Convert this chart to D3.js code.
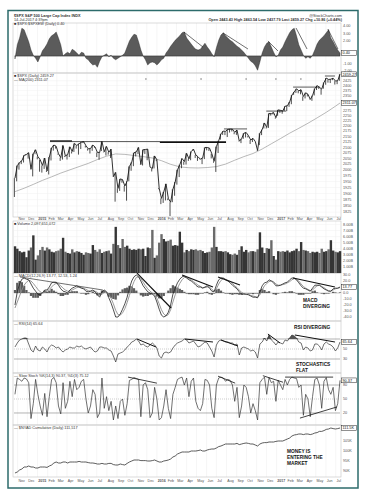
<!DOCTYPE html>
<html>
<head>
<meta charset="utf-8">
<script src="https://cdn.jsdelivr.net/npm/d3@7"></script>
<style>
  html, body { margin: 0; padding: 0; background: #fff; }
  svg { display: block; font-family: "Liberation Sans", Arial, sans-serif; }
</style>
</head>
<body>
<div id="chart"></div>
<script>
'use strict';

// weekly values, week 0 = Fri 24-Oct-2014, week 142 = Fri 14-Jul-2017
var priceClose = [1964.6,2018.1,2031.9,2039.8,2063.5,2067.6,2075.4,2002.3,2070.7,2088.8,
  2058.2,2044.8,2019.4,2051.8,1995.0,2055.5,2097.0,2110.3,2104.5,2071.3,
  2053.4,2108.1,2061.0,2067.0,2102.1,2081.2,2117.7,2108.3,2116.1,2122.7,
  2126.1,2107.4,2092.8,2094.1,2110.0,2101.5,2076.8,2076.6,2126.6,2079.7,
  2103.8,2077.6,2091.5,1970.9,1988.9,1921.2,1961.1,1958.1,1931.3,1951.4,
  2014.9,2033.1,2075.2,2079.4,2099.2,2023.0,2089.2,2090.1,2091.7,2012.4,
  2005.6,2061.0,2043.9,1922.0,1880.3,1906.9,1940.2,1880.1,1864.8,1917.8,
  1948.1,2000.0,2022.2,2049.6,2035.9,2072.8,2047.6,2080.7,2091.6,2065.3,
  2057.1,2046.6,2052.3,2099.1,2099.1,2096.1,2071.2,2037.4,2103.0,2129.9,
  2161.7,2175.0,2173.6,2182.9,2184.1,2183.9,2169.0,2180.0,2127.8,2139.2,
  2164.7,2168.3,2153.7,2133.0,2141.2,2126.4,2085.2,2164.5,2181.9,2213.4,
  2192.0,2259.5,2258.1,2263.8,2238.8,2277.0,2274.6,2271.3,2294.7,2297.4,
  2316.1,2351.2,2367.3,2383.1,2372.6,2378.3,2344.0,2362.7,2355.5,2329.0,
  2348.7,2384.2,2399.3,2390.9,2381.7,2415.8,2439.1,2431.8,2433.2,2438.3,
  2423.4,2425.2,2459.3];

var priceLow = [1886,1951,2001,2025,2032,2064,2049,2002,1972,2069,
  2046,1992,1988,2004,1991,1980,2041,2085,2094,2067,
  2039,2045,2056,2045,2056,2072,2079,2094,2067,2092,
  2119,2099,2085,2072,2084,2098,2056,2044,2083,2077,
  2063,2067,2052,1970,1867,1903,1911,1945,1908,1871,
  1951,1996,2016,2059,2069,2022,2019,2070,2042,2012,
  1993,2006,2038,1918,1857,1862,1872,1873,1810,1865,
  1891,1937,1969,2007,2022,2023,2039,2042,2084,2052,
  2039,2045,2025,2047,2086,2083,2050,2031,1991,2074,
  2135,2157,2156,2147,2168,2173,2160,2157,2127,2119,
  2139,2145,2145,2115,2124,2126,2084,2110,2156,2187,
  2187,2190,2249,2254,2234,2248,2262,2258,2273,2271,
  2292,2305,2352,2362,2360,2355,2322,2334,2344,2328,
  2322,2349,2377,2382,2353,2384,2404,2415,2413,2428,
  2405,2407,2425];

var maWeeks = [0,4,8,12,16,20,24,28,32,36,40,44,48,52,56,60,64,68,72,76,80,84,88,92,96,100,104,108,112,116,120,124,128,132,136,140,142];
var ma200 = [1908,1922,1938,1955,1970,1986,2000,2014,2028,2045,2060,2070,2068,2063,2058,2052,2040,2024,2013,2009,2008,2010,2014,2025,2042,2058,2072,2092,2116,2140,2165,2188,2212,2238,2265,2295,2311];

var oscTop = [-0.4,1.5,2.4,3.7,3.5,2.7,1.9,0.8,0.1,-0.3,
  -0.8,-0.1,0.7,1.1,1.6,2.3,2.7,2.9,3.2,2.4,
  1.5,0,0.3,0.5,0.3,0.9,0.7,0.4,0.1,0.5,
  0.4,-0.3,-0.5,-0.9,-1.2,-1.1,-1.5,-0.7,-0.1,0.1,
  0.3,-0.1,0.1,-0.3,-0.5,-0.3,-0.1,0.1,0.4,1.2,
  2.0,2.5,2.9,2.8,1.9,0.8,0,-0.5,-1.2,-0.9,
  -0.8,-0.9,-1.2,-0.9,-0.5,-0.3,0.4,0.8,1.3,1.7,
  2.1,2.4,2.7,3.1,3.2,2.4,2.0,1.6,1.2,0.9,
  0.8,0.9,1.3,1.7,1.2,0.8,0.3,-0.1,1.1,2.1,
  2.8,3.1,2.7,2.4,2.1,1.9,1.6,1.3,1.1,0.8,
  0.5,0.1,-0.3,-0.7,-0.9,-1.3,-1.9,-0.8,0.4,1.2,
  1.7,1.9,1.2,0.5,-0.1,0.1,0.8,1.2,1.9,2.5,
  3.1,3.5,3.7,2.7,1.5,0.8,0.1,-0.3,-0.1,-0.3,
  0.1,0.8,1.6,2.1,2.4,2.7,3.1,3.5,2.4,1.9,
  1.3,0.8,0.4];

var volume = [4.4,4.0,3.6,3.4,3.5,2.6,3.7,4.2,6.2,2.2,
  2.9,3.8,4.3,3.7,4.2,3.9,3.5,3.4,3.6,3.7,
  4.0,5.8,3.5,3.3,3.2,3.9,3.4,3.6,3.5,3.3,
  3.0,3.4,3.3,3.2,4.6,3.8,3.5,3.9,3.3,3.5,
  3.6,3.7,3.2,4.8,7.6,4.6,4.1,5.6,4.3,4.5,
  4.0,3.8,3.9,3.8,4.0,3.9,4.0,2.8,4.2,4.1,
  7.1,2.5,2.9,5.0,6.4,5.6,5.2,5.3,5.5,4.5,
  4.6,4.5,6.8,5.0,3.4,3.8,3.6,3.9,3.8,3.9,
  3.7,3.8,3.6,3.3,3.4,3.5,4.2,7.6,4.3,3.6,
  3.6,3.5,3.6,3.4,3.1,3.0,3.2,3.0,3.8,4.4,
  3.5,3.8,3.4,3.6,3.6,3.5,3.9,6.7,4.2,3.3,
  4.1,4.0,5.4,2.8,2.2,3.6,3.5,3.6,3.5,3.7,
  3.4,3.6,3.7,4.0,3.6,5.1,3.8,3.7,3.6,3.3,
  3.5,3.4,3.5,3.3,4.0,3.5,3.6,3.9,5.4,3.7,
  3.5,3.4,3.6];

var macd = [-20,2,15,23,25,23,22,15,8,3,
  -2,-3,0,5,5,10,17,18,18,13,
  7,3,2,0,5,8,10,12,10,8,
  7,3,2,3,5,2,-3,-7,2,5,
  2,-8,-17,-28,-40,-40,-35,-27,-18,-7,
  8,20,27,30,27,20,12,7,2,0,
  -2,-5,-15,-27,-37,-40,-38,-32,-20,-2,
  8,17,23,27,28,25,22,20,17,13,
  10,10,8,10,12,8,3,2,13,22,
  25,25,22,20,17,13,10,7,2,-2,
  -2,-2,-3,-5,-7,-7,-8,2,12,17,
  18,22,20,17,12,12,13,15,17,18,
  22,25,25,22,17,12,8,7,5,3,
  8,13,13,13,10,7,5,3,3,7,
  8,8,10];

var macdSignal = [-25,-15,-5,5,13,18,21,20,16,11,
  6,2,0,1,3,6,10,14,16,15,
  12,8,5,3,3,5,7,9,10,9,
  8,6,4,3,3,3,1,-3,-2,1,
  2,-2,-9,-18,-29,-36,-37,-33,-26,-16,
  -4,9,19,26,27,24,18,12,7,3,
  0,-3,-9,-18,-28,-35,-38,-36,-28,-15,
  -3,8,16,22,26,26,24,22,19,16,
  13,11,9,9,10,10,6,3,7,15,
  21,24,23,21,19,16,12,9,5,1,
  -1,-2,-2,-4,-5,-6,-7,-3,5,12,
  16,19,20,19,15,13,13,14,15,17,
  19,22,24,23,20,15,11,8,6,4,
  5,9,12,13,11,9,6,4,3,5,
  7,8,9];

var rsi = [54,62,68,70,72,72,60,48,44,56,
  48,46,54,50,44,54,58,56,52,54,
  48,44,48,50,54,52,52,56,54,56,
  52,50,52,54,48,44,46,54,54,52,
  52,48,46,36,24,40,42,44,48,54,
  58,64,66,70,66,58,60,56,54,58,
  62,58,52,36,32,42,44,42,44,52,
  58,62,64,66,70,68,62,64,66,60,
  54,56,60,64,62,54,46,34,58,66,
  68,66,64,64,62,62,58,60,38,52,
  54,52,50,46,48,44,32,60,64,72,
  66,78,68,64,58,64,62,60,68,66,
  72,78,76,72,64,62,48,54,52,46,
  48,60,60,56,48,60,64,60,58,54,
  46,52,64];

var stochK = [60,95,92,88,95,93,85,8,40,92,
  60,35,15,62,12,55,92,96,85,35,
  18,85,30,45,88,55,92,70,75,88,
  92,50,20,35,70,60,10,20,95,30,
  55,25,45,5,35,8,45,50,15,40,
  90,92,96,94,92,12,80,85,70,10,
  20,75,50,5,10,35,70,30,8,60,
  75,92,95,97,80,95,55,88,95,45,
  30,25,40,92,90,80,30,10,80,95,
  97,95,88,92,90,80,45,75,10,35,
  80,75,55,20,40,25,5,85,92,97,
  60,96,85,88,45,90,80,70,92,80,
  92,97,95,94,75,80,15,60,50,12,
  55,92,95,80,30,88,96,70,60,75,
  25,40,90];

var adLine = [89.0,89.5,90.5,91.0,92.0,92.0,92.5,92.0,92.0,91.5,
  91.5,92.0,92.0,92.0,91.8,92.5,93.0,94.0,94.5,94.0,
  94.0,94.5,94.5,94.0,94.5,94.5,94.5,94.5,94.8,94.5,
  94.5,94.5,94.2,94.0,94.0,93.8,93.5,93.5,93.8,93.5,
  93.5,93.8,93.8,93.2,93.0,93.0,93.5,93.2,93.0,93.8,
  94.5,95.0,95.5,95.5,95.5,95.2,95.2,95.2,95.0,95.0,
  95.2,95.5,95.0,94.5,94.5,95.0,95.2,95.5,96.0,97.0,
  97.5,98.5,99.0,99.5,99.5,99.5,99.5,100.0,100.0,100.0,
  100.2,100.5,100.0,100.0,100.5,100.8,101.0,101.0,101.5,102.2,
  102.5,103.0,103.5,103.5,103.5,103.5,103.5,103.8,103.2,103.5,
  103.8,104.0,103.8,103.5,103.5,103.0,102.5,103.5,104.0,104.2,
  104.2,104.5,104.5,104.5,104.8,105.0,105.0,105.0,105.5,106.0,
  106.5,107.5,108.0,108.2,108.5,108.5,108.2,108.5,108.5,108.2,
  108.5,109.0,109.2,109.8,109.8,110.2,110.8,111.0,111.5,111.2,
  111.0,111.2,111.5];

// annotation trend lines: [week, value] end points
var topTrends = [[[73.8,3.2],[82.1,1.2]], [[90.9,3.07],[101.8,0.93]], [[110.5,2.0],[114.9,0.67]], [[122.8,3.73],[127.6,0.93]], [[136.7,3.6],[141.1,0.93]]];
var priceTrendsThin = [[[15.3,2126],[92.2,2126]], [[91.3,2185],[101.4,2185]], [[109.8,2271],[118.5,2271]], [[121.5,2392],[133.2,2392]], [[135.4,2450],[139.8,2450]]];
var priceTrendsThick = [[[15.3,2129],[24.9,2129]], [[63.3,2122],[92.2,2122]]];
var macdTrendsThin = [[[2.2,26.7],[38.4,5]]];
var macdTrendsThick = [[[53.3,33],[68.2,-25]], [[73,30],[86.5,10]], [[88.7,26.7],[98.3,13.3]], [[121.5,25],[139.8,10]]];
var rsiTrends = [[[53.3,70],[61.6,54]], [[74.3,70],[86.5,64]], [[90,68],[97.4,56]], [[110.5,80],[115.8,62]], [[122.3,78],[139.8,64]]];
var stochTrends = [[[49.4,97],[62,84]], [[88.7,99],[96.2,84]], [[108.3,100],[117.1,86]], [[118,97],[139,97]], [[124.5,9],[140.7,33]]];
var markerWeeks = [57.2, 81.3, 101, 114, 124.9];

var priceTicks = [1825,1850,1875,1900,1925,1950,1975,2000,2025,2050,2075,2100,2125,2150,2175,2200,2225,2250,2275,2300,2325,2350,2375,2400,2425];
var topTicks = [-2,-1,0,1,2,3,4];
var volTicks = [1,2,3,4,5,6,7,8];
var macdTicks = [-40,-30,-20,-10,0,10,20,30];
var rsiTicks = [30,50,70];
var stochTicks = [20,50,80];
var adTicks = [90,95,100,105,110];

var W = 371, H = 496, L = 14, R = 340;
var start = new Date(2014, 9, 24);
var weekDate = function (i) { return new Date(start.getTime() + i * 7 * 864e5); };

var x = d3.scaleTime().domain([new Date(2014, 9, 21), new Date(2017, 6, 14)]).range([L, R]);
var yTop = d3.scaleLinear().domain([-2.2, 4.1]).range([72.5, 25.25]);
var yPrice = d3.scaleLog().domain([1810, 2450]).range([216, 76]);
var yVol = d3.scaleLinear().domain([0, 8.4]).range([273, 222]);
var yMacd = d3.scaleLinear().domain([-45, 32]).range([320, 273.8]);
var yRsi = d3.scaleLinear().domain([0, 100]).range([374, 324]);
var yStoch = d3.scaleLinear().domain([0, 100]).range([422.3, 375.7]);
var yAd = d3.scaleLinear().domain([88, 112]).range([475, 427]);

var svg = d3.select('#chart').append('svg').attr('width', W).attr('height', H);
svg.append('rect').attr('width', W).attr('height', H).attr('fill', '#fff');

var panels = [
  { y0: 23, y1: 73 }, { y0: 73, y1: 217 }, { y0: 221, y1: 273 }, { y0: 273, y1: 321 },
  { y0: 321, y1: 373 }, { y0: 373, y1: 425 }, { y0: 425, y1: 477 }
];
var months = d3.timeMonth.range(new Date(2014, 10, 1), new Date(2017, 7, 1));

// grid + frames
panels.forEach(function (p) {
  svg.append('g').selectAll('line').data(months).join('line')
    .attr('x1', function (d) { return x(d); }).attr('x2', function (d) { return x(d); })
    .attr('y1', p.y0).attr('y2', p.y1).attr('stroke', '#ececec').attr('stroke-width', 0.5);
  svg.append('rect').attr('x', L - 1).attr('y', p.y0).attr('width', R - L + 2).attr('height', p.y1 - p.y0)
    .attr('fill', 'none').attr('stroke', '#c4c4c4').attr('stroke-width', 0.6);
});

var hgrid = function (ticks, y) {
  svg.append('g').selectAll('line').data(ticks).join('line')
    .attr('x1', L).attr('x2', R).attr('y1', function (d) { return y(d); }).attr('y2', function (d) { return y(d); })
    .attr('stroke', '#f0f0f0').attr('stroke-width', 0.5);
};
hgrid(priceTicks, yPrice);
hgrid(volTicks, yVol);

// right axis labels, skipping the ones hidden under a value box
var rightAxis = function (ticks, y, fmt, boxes) {
  var shown = ticks.filter(function (t) {
    return (boxes || []).every(function (b) { return Math.abs(y(t) - y(b)) > 4.6; });
  });
  svg.append('g').selectAll('text').data(shown).join('text')
    .attr('x', R + 3).attr('y', function (d) { return y(d) + 1.3; })
    .style('font-size', '3.8px').style('fill', '#555')
    .text(fmt);
};
var valueBox = function (v, y, txt) {
  svg.append('rect').attr('x', R + 1.5).attr('y', y(v) - 2.4).attr('width', 15).attr('height', 4.8)
    .attr('fill', '#fff').attr('stroke', '#222').attr('stroke-width', 0.5);
  svg.append('text').attr('x', R + 2.5).attr('y', y(v) + 1.4).style('font-size', '3.8px').style('fill', '#111').text(txt);
};

var lastOf = function (a) { return a[a.length - 1]; };
rightAxis(topTicks, yTop, function (d) { return d.toFixed(2); }, [lastOf(oscTop)]);
rightAxis(priceTicks, yPrice, function (d) { return d; }, [lastOf(priceClose), lastOf(ma200)]);
rightAxis(volTicks, yVol, function (d) { return d.toFixed(2) + 'B'; });
rightAxis(macdTicks, yMacd, function (d) { return d.toFixed(1); }, [lastOf(macd)]);
rightAxis(rsiTicks, yRsi, function (d) { return d; }, [lastOf(rsi)]);
rightAxis(stochTicks, yStoch, function (d) { return d; }, [lastOf(stochK)]);
rightAxis(adTicks, yAd, function (d) { return d + 'K'; }, [lastOf(adLine)]);

// date axis labels
var dateAxis = function (yy) {
  svg.append('g').selectAll('text').data(months).join('text')
    .attr('x', function (d) { return x(d) + 0.8; }).attr('y', yy)
    .style('font-size', '3.6px').style('fill', '#555')
    .style('font-weight', function (d) { return d.getMonth() === 0 ? 'bold' : 'normal'; })
    .text(function (d) { return d.getMonth() === 0 ? d.getFullYear() : d3.timeFormat('%b')(d); });
};
dateAxis(220);
dateAxis(481.5);

var line = function (data, y, wk) {
  return d3.line()
    .x(function (d, i) { return x(weekDate(wk ? wk[i] : i)); })
    .y(function (d) { return y(d); })(data);
};
var trend = function (segs, y, width) {
  svg.append('g').selectAll('path').data(segs).join('path')
    .attr('d', d3.line().x(function (d) { return x(weekDate(d[0])); }).y(function (d) { return y(d[1]); }))
    .attr('fill', 'none').attr('stroke', '#111').attr('stroke-width', width);
};

// top panel: oscillator area
svg.append('line').attr('x1', L).attr('x2', R).attr('y1', yTop(0)).attr('y2', yTop(0)).attr('stroke', '#999').attr('stroke-width', 0.6);
svg.append('path').datum(oscTop)
  .attr('d', d3.area().x(function (d, i) { return x(weekDate(i)); }).y0(yTop(0)).y1(function (d) { return yTop(d); }))
  .attr('fill', '#5b5b5b').attr('stroke', '#222').attr('stroke-width', 0.4);
trend(topTrends, yTop, 0.6);
valueBox(lastOf(oscTop), yTop, '0.40');

// price panel
svg.append('path').attr('d', line(ma200, yPrice, maWeeks)).attr('fill', 'none').attr('stroke', '#8a8a8a').attr('stroke-width', 0.6);
svg.append('g').selectAll('line').data(priceLow).join('line')
  .attr('x1', function (d, i) { return x(weekDate(i)) - 0.6; }).attr('x2', function (d, i) { return x(weekDate(i)) - 0.6; })
  .attr('y1', function (d) { return yPrice(d); }).attr('y2', function (d, i) { return yPrice(priceClose[i]); })
  .attr('stroke', '#222').attr('stroke-width', 0.8);
svg.append('path').attr('d', line(priceClose, yPrice)).attr('fill', 'none').attr('stroke', '#1a1a1a').attr('stroke-width', 0.9);
trend(priceTrendsThin, yPrice, 0.7);
trend(priceTrendsThick, yPrice, 1.2);
svg.append('g').selectAll('circle').data(markerWeeks).join('circle')
  .attr('cx', function (d) { return x(weekDate(d)); }).attr('cy', 79).attr('r', 0.9).attr('fill', '#aaa');
valueBox(lastOf(priceClose), yPrice, '2459.27');
valueBox(lastOf(ma200), yPrice, '2311.07');

// volume bars
var bw = x(weekDate(1)) - x(weekDate(0));
svg.append('g').selectAll('rect').data(volume).join('rect')
  .attr('x', function (d, i) { return x(weekDate(i)) - bw / 2; }).attr('width', bw + 0.1)
  .attr('y', function (d) { return yVol(d); }).attr('height', function (d) { return yVol(0) - yVol(d); })
  .attr('fill', function (d, i) { return i > 0 && priceClose[i] < priceClose[i - 1] ? '#6a6a6a' : '#353535'; });

// MACD
svg.append('line').attr('x1', L).attr('x2', R).attr('y1', yMacd(0)).attr('y2', yMacd(0)).attr('stroke', '#999').attr('stroke-width', 0.5);
svg.append('g').selectAll('rect').data(macd).join('rect')
  .attr('x', function (d, i) { return x(weekDate(i)) - bw / 2; }).attr('width', bw)
  .attr('y', function (d, i) { return yMacd(Math.max(0, d - macdSignal[i])); })
  .attr('height', function (d, i) { return Math.abs(yMacd(d - macdSignal[i]) - yMacd(0)); })
  .attr('fill', '#5e5e5e');
svg.append('path').attr('d', line(macdSignal, yMacd)).attr('fill', 'none').attr('stroke', '#8d8d8d').attr('stroke-width', 0.9);
svg.append('path').attr('d', line(macd, yMacd)).attr('fill', 'none').attr('stroke', '#222').attr('stroke-width', 0.8);
trend(macdTrendsThin, yMacd, 0.6);
trend(macdTrendsThick, yMacd, 1.2);
valueBox(lastOf(macd), yMacd, '13.77');

// RSI
[30, 70].forEach(function (v) {
  svg.append('line').attr('x1', L).attr('x2', R).attr('y1', yRsi(v)).attr('y2', yRsi(v)).attr('stroke', '#666').attr('stroke-width', 0.5);
});
svg.append('line').attr('x1', L).attr('x2', R).attr('y1', yRsi(50)).attr('y2', yRsi(50)).attr('stroke', '#999').attr('stroke-width', 0.5).attr('stroke-dasharray', '1,1');
svg.append('path').datum(rsi)
  .attr('d', d3.area().x(function (d, i) { return x(weekDate(i)); }).y0(yRsi(70)).y1(function (d) { return yRsi(Math.max(70, d)); }))
  .attr('fill', '#555');
svg.append('path').attr('d', line(rsi, yRsi)).attr('fill', 'none').attr('stroke', '#333').attr('stroke-width', 0.7);
trend(rsiTrends, yRsi, 1.0);
valueBox(lastOf(rsi), yRsi, '65.64');

// stochastics
[20, 80].forEach(function (v) {
  svg.append('line').attr('x1', L).attr('x2', R).attr('y1', yStoch(v)).attr('y2', yStoch(v)).attr('stroke', '#666').attr('stroke-width', 0.5);
});
svg.append('line').attr('x1', L).attr('x2', R).attr('y1', yStoch(50)).attr('y2', yStoch(50)).attr('stroke', '#999').attr('stroke-width', 0.5).attr('stroke-dasharray', '1,1');
svg.append('path').attr('d', line(stochK, yStoch)).attr('fill', 'none').attr('stroke', '#333').attr('stroke-width', 0.7);
trend(stochTrends, yStoch, 0.8);
valueBox(lastOf(stochK), yStoch, '90.37');

// cumulative A/D line
svg.append('path').attr('d', line(adLine, yAd)).attr('fill', 'none').attr('stroke', '#333').attr('stroke-width', 0.8);
valueBox(lastOf(adLine), yAd, '111.5K');

// titles
var small = function (xx, yy, txt, anchor, bold) {
  svg.append('text').attr('x', xx).attr('y', yy).attr('text-anchor', anchor || 'start')
    .style('font-size', '3.8px').style('fill', '#333').style('font-weight', bold ? 'bold' : 'normal').text(txt);
};
small(L, 16.5, '$SPX S&P 500 Large Cap Index  INDX', 'start', true);
small(L, 20.8, '14-Jul-2017 4:39pm');
small(L, 25.3, '\u25A0 $SPX:$SPXEW (Daily) 0.40');
small(R + 2, 16.5, '@StockCharts.com', 'end');
small(R + 2, 20.8, 'Open 2443.43 High 2463.54 Low 2437.79 Last 2459.27 Chg +10.86 (+0.44%)', 'end', true);
small(L, 76.5, '\u25A0 $SPX (Daily) 2459.27');
small(L, 80.5, '\u2014 MA(200) 2311.07');
small(L, 225, '\u25A0 Volume 2,097,651,072');
small(L, 276.5, '\u2014 MACD(12,26,9) 13.77, 12.53, 1.24');
small(L, 325, '\u2014 RSI(14) 65.64');
small(L, 377, '\u2014 Slow Stoch %K(14,3) 90.37, %D(3) 75.12');
small(L, 429, '\u2014 $NYAD Cumulative (Daily) 111,517');

// annotations
var note = function (xx, yy, lines) {
  lines.forEach(function (t, k) {
    svg.append('text').attr('x', xx).attr('y', yy + k * 6.2)
      .style('font-size', '4.8px').style('font-weight', 'bold').style('fill', '#111').text(t);
  });
};
note(303, 301.5, ['MACD', 'DIVERGING']);
note(294, 328.5, ['RSI DIVERGING']);
note(296, 365.5, ['STOCHASTICS', 'FLAT']);
note(287, 452.5, ['MONEY IS', 'ENTERING THE', 'MARKET']);

// outer frame
svg.append('rect').attr('x', 8).attr('y', 10.5).attr('width', 350).attr('height', 477.5)
  .attr('fill', 'none').attr('stroke', '#2c6b6b').attr('stroke-width', 1.5);
</script>
</body>
</html>
